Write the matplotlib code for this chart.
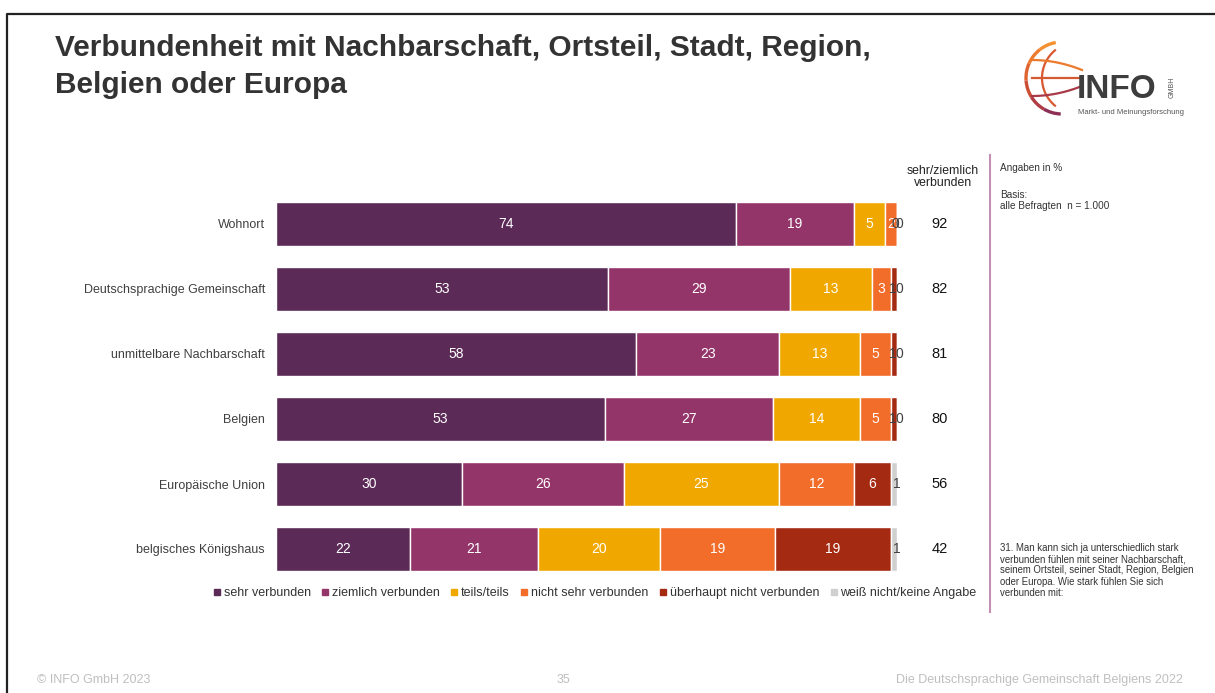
import numpy as np
import matplotlib
matplotlib.use("Agg")
import matplotlib.pyplot as plt
from matplotlib.lines import Line2D
from matplotlib.patches import Arc

plt.rcParams['font.family'] = ['Liberation Sans', 'DejaVu Sans']

# ---------------- daten ----------------
kategorien = ["Wohnort", "Deutschsprachige Gemeinschaft", "unmittelbare Nachbarschaft",
              "Belgien", "Europäische Union", "belgisches Königshaus"]
serien = ["sehr verbunden", "ziemlich verbunden", "teils/teils", "nicht sehr verbunden",
          "überhaupt nicht verbunden", "weiß nicht/keine Angabe"]
sehr = [74, 53, 58, 53, 30, 22]
ziemlich = [19, 29, 23, 27, 26, 21]
teils = [5, 13, 13, 14, 25, 20]
nicht_sehr = [2, 3, 5, 5, 12, 19]
ueberhaupt = [0, 1, 1, 1, 6, 19]
weiss_nicht = [0, 0, 0, 0, 1, 1]
sehr_ziemlich = [92, 82, 81, 80, 56, 42]

farben = ["#5c2a57", "#94356a", "#f0a800", "#f26c2a", "#a52a12", "#d0d0d0"]

W, H = 1215, 693
fig = plt.figure(figsize=(W / 100, H / 100), dpi=100)

def fx(px):
    return px / W

def fy(py):
    return 1 - py / H

# ---------------- rahmen ----------------
fig.add_artist(Line2D([fx(7), fx(7), 1], [0, fy(14), fy(14)], color="#222222", lw=1.6))

# ---------------- titel ----------------
fig.text(fx(55), fy(48), "Verbundenheit mit Nachbarschaft, Ortsteil, Stadt, Region,",
         fontsize=21.5, fontweight="bold", color="#333333", va="center")
fig.text(fx(55), fy(85), "Belgien oder Europa",
         fontsize=21.5, fontweight="bold", color="#333333", va="center")

# ---------------- balken ----------------
ax = fig.add_axes([fx(276), fy(581.5), fx(897 - 276), (581.5 - 191.5) / H])
daten = np.array([sehr, ziemlich, teils, nicht_sehr, ueberhaupt, weiss_nicht], dtype=float)
summen = daten.sum(axis=0)
breiten = daten / summen * 100
y = np.arange(len(kategorien))
links = np.zeros(len(kategorien))
for i, name in enumerate(serien):
    ax.barh(y, breiten[i], left=links, height=0.68, color=farben[i],
            edgecolor="white", linewidth=1, label=name)
    for j in range(len(kategorien)):
        wert = int(daten[i][j])
        mitte = links[j] + breiten[i][j] / 2
        if wert >= 2:
            ax.text(mitte, y[j], str(wert), color="white", fontsize=10,
                    ha="center", va="center")
        else:
            # kleine werte: wie im original dicht nebeneinander
            ax.text(mitte + (0.4 if i == 5 else -0.2), y[j], str(wert), color="#404040",
                    fontsize=10, ha="center", va="center")
    links += breiten[i]

ax.set_xlim(0, 100)
ax.set_ylim(len(kategorien) - 0.5, -0.5)
ax.set_yticks(y)
ax.set_yticklabels(kategorien, fontsize=9, color="#404040")
ax.tick_params(axis="y", length=0, pad=8)
ax.set_xticks([])
for s in ax.spines.values():
    s.set_visible(False)

# summen rechts
for j in range(len(kategorien)):
    ax.text(1.069, y[j], str(sehr_ziemlich[j]), transform=ax.get_yaxis_transform(),
            fontsize=10.5, color="#111111", ha="center", va="center")
fig.text(fx(943), fy(177), "sehr/ziemlich\nverbunden", fontsize=8.8, color="#222222",
         ha="center", va="center", linespacing=1.0)

# legende
handles = [Line2D([], [], marker="s", linestyle="none", markersize=4,
                  markerfacecolor=c, markeredgecolor=c) for c in farben]
fig.legend(handles, serien, loc="center", bbox_to_anchor=(fx(595), fy(593)), ncol=6,
           frameon=False, fontsize=9, handlelength=0.5, handletextpad=0.3,
           columnspacing=0.9, labelcolor="#333333")

# ---------------- notizen rechts ----------------
fig.add_artist(Line2D([fx(990), fx(990)], [fy(155), fy(612)], color="#c58fb5", lw=1.5))
fig.text(fx(1000), fy(168), "Angaben in %", fontsize=7.2, color="#333333", va="center")
fig.text(fx(1000), fy(195), "Basis:", fontsize=7.2, color="#333333", va="center")
fig.text(fx(1000), fy(206), "alle Befragten  n = 1.000", fontsize=7.2, color="#333333", va="center")
fig.text(fx(1000), fy(543),
         "31. Man kann sich ja unterschiedlich stark\n"
         "verbunden fühlen mit seiner Nachbarschaft,\n"
         "seinem Ortsteil, seiner Stadt, Region, Belgien\n"
         "oder Europa. Wie stark fühlen Sie sich\n"
         "verbunden mit:", fontsize=6.9, color="#333333", va="top", linespacing=1.15)

# ---------------- fusszeile ----------------
fig.text(fx(37), fy(680), "© INFO GmbH 2023", fontsize=9, color="#bfbfbf", va="center")
fig.text(fx(563), fy(680), "35", fontsize=9, color="#bfbfbf", va="center", ha="center")
fig.text(fx(1183), fy(680), "Die Deutschsprachige Gemeinschaft Belgiens 2022", fontsize=9,
         color="#bfbfbf", va="center", ha="right")

# ---------------- logo ----------------
lax = fig.add_axes([fx(1020), fy(120), fx(80), (120 - 38) / H])
lax.set_xlim(0, 80)
lax.set_ylim(82, 0)
lax.set_aspect("equal")
lax.axis("off")
verlauf = ["#f3902f", "#ee7b2e", "#e0642f", "#cc4e35", "#b03c44", "#8e3055"]
for k in range(6):
    a0 = 100 + k * 28
    lax.add_patch(Arc((42, 40), 72, 72, theta1=-a0 - 28, theta2=-a0, color=verlauf[k], lw=2.4))
lax.add_patch(Arc((58, 40), 72, 72, theta1=128, theta2=232, color="#d8582f", lw=1.6))
for k, (yy, c) in enumerate([(22, "#ec7a2d"), (40, "#d45a32"), (58, "#a83a48")]):
    xs = np.linspace(12, 62, 30)
    lax.plot(xs, yy + 0.004 * (xs - 12) ** 2 * (1 if yy < 40 else -1 if yy > 40 else 0),
             color=c, lw=1.6)
fig.text(fx(1077), fy(89), "INFO", fontsize=24, fontweight="heavy", color="#3d3d3d", va="center")
fig.text(fx(1172), fy(87), "GMBH", fontsize=5, color="#555555", va="center", ha="center", rotation=90)
fig.text(fx(1078), fy(113), "Markt- und Meinungsforschung", fontsize=5.5, color="#555555", va="center")

plt.savefig("out.png", dpi=100)
